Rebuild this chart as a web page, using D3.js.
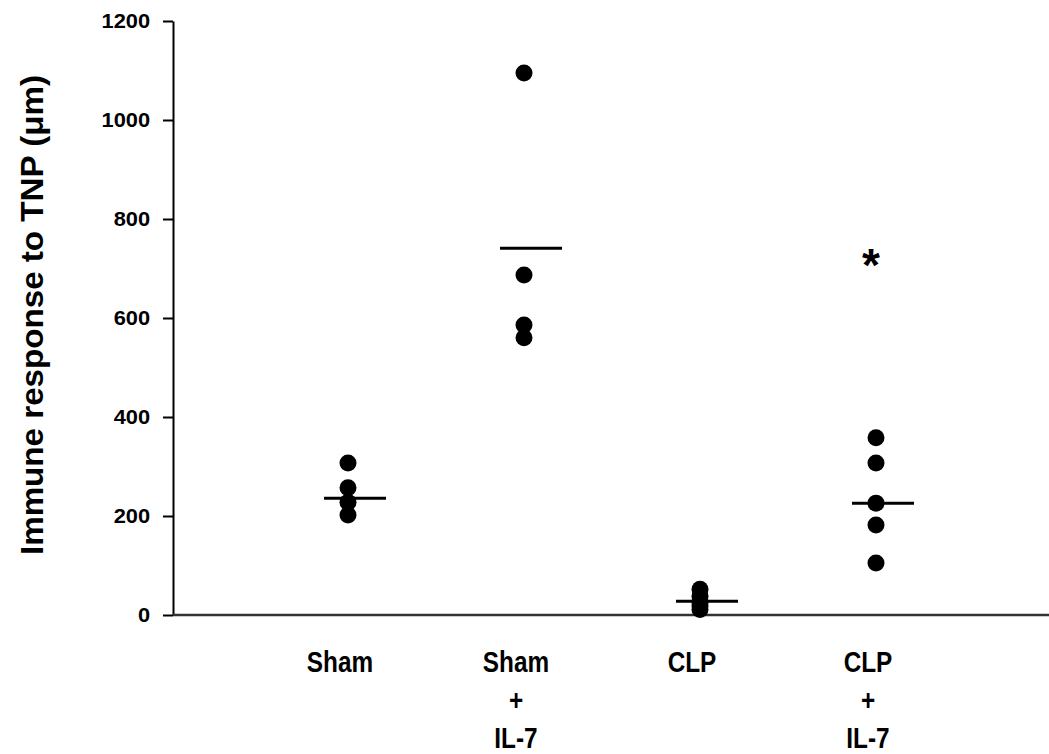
<!DOCTYPE html>
<html>
<head>
<meta charset="utf-8">
<script src="https://cdn.jsdelivr.net/npm/d3@7"></script>
<style>
  body { margin: 0; background: #fff; }
  svg text { font-family: "Liberation Sans", Arial, sans-serif; font-weight: bold; fill: #000; }
</style>
</head>
<body>
<div id="chart"></div>
<script>
// groups along the x axis, label lines stacked under each
const groups = ["Sham", "Sham+IL-7", "CLP", "CLP+IL-7"];
const groupLabels = [["Sham"], ["Sham", "+", "IL-7"], ["CLP"], ["CLP", "+", "IL-7"]];

// individual animals
const shamValues = [307, 257, 228, 202];
const shamIl7Values = [1095, 687, 586, 560];
const clpValues = [52, 38, 26, 18, 11];
const clpIl7Values = [358, 307, 226, 182, 105];

// group means (horizontal bars)
const means = [236, 741, 28, 226];

const yTicks = [0, 200, 400, 600, 800, 1000, 1200];
const starValue = 718; // where the * sits over CLP + IL-7

let width = 1049, height = 754,
  margin = {top: 21, right: 0, bottom: 139, left: 173};

let svg = d3.select("#chart")
  .append("svg")
  .attr("width", width)
  .attr("height", height);

let y = d3.scaleLinear()
  .domain([0, 1200])
  .range([height - margin.bottom, margin.top]);

let x = d3.scalePoint()
  .domain(groups)
  .range([353, 881]);

// y axis
let yAxis = d3.axisLeft(y)
  .tickValues(yTicks)
  .tickFormat(d3.format("d"))
  .tickSize(10)
  .tickPadding(12)
  .tickSizeOuter(0);

let gy = svg.append("g")
  .attr("transform", "translate(" + margin.left + ",0)")
  .call(yAxis);
gy.select(".domain").attr("stroke", "#000").attr("stroke-width", 2);
gy.selectAll(".tick line").attr("stroke", "#000").attr("stroke-width", 2);
gy.selectAll(".tick text")
  .style("font-size", "21px")
  .attr("transform", "scale(1.04,1)");

// x axis line only, labels drawn separately
svg.append("line")
  .attr("x1", margin.left)
  .attr("x2", width)
  .attr("y1", y(0))
  .attr("y2", y(0))
  .attr("stroke", "#333")
  .attr("stroke-width", 2.5);

// group labels, a bit condensed like the original
groups.forEach(function(g, i) {
  groupLabels[i].forEach(function(line, j) {
    svg.append("text")
      .attr("transform", "translate(" + (x(g) - 13) + "," + (672 + j * 38) + ") scale(0.84,1)")
      .attr("text-anchor", "middle")
      .style("font-size", "29px")
      .text(line);
  });
});

// y title
svg.append("text")
  .attr("transform", "translate(43," + y(606) + ") rotate(-90)")
  .attr("text-anchor", "middle")
  .style("font-size", "31px")
  .attr("textLength", 480)
  .attr("lengthAdjust", "spacingAndGlyphs")
  .text("Immune response to TNP (\u03bcm)");

// points
let points = [];
[shamValues, shamIl7Values, clpValues, clpIl7Values].forEach(function(vals, i) {
  vals.forEach(function(v) { points.push({g: groups[i], v: v}); });
});

svg.append("g")
  .selectAll("circle")
  .data(points)
  .enter()
  .append("circle")
  .attr("cx", d => x(d.g) - 5)
  .attr("cy", d => y(d.v))
  .attr("r", 8.5)
  .attr("fill", "#000");

// mean bars
svg.append("g")
  .selectAll("line")
  .data(means)
  .enter()
  .append("line")
  .attr("x1", (d, i) => x(groups[i]) - 29)
  .attr("x2", (d, i) => x(groups[i]) + 33)
  .attr("y1", d => y(d))
  .attr("y2", d => y(d))
  .attr("stroke", "#000")
  .attr("stroke-width", 3);

// significance star
svg.append("text")
  .attr("x", x("CLP+IL-7") - 10)
  .attr("y", y(starValue) + 21)
  .attr("text-anchor", "middle")
  .style("font-size", "46px")
  .text("*");
</script>
</body>
</html>
